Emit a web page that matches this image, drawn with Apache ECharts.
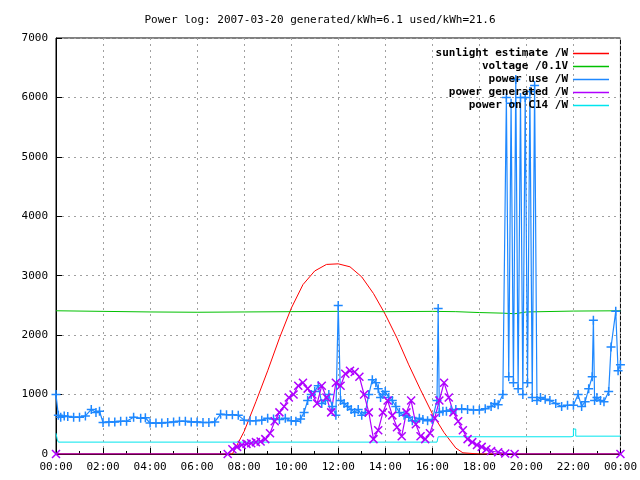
<!DOCTYPE html>
<html>
<head>
<meta charset="utf-8">
<script src="https://cdn.jsdelivr.net/npm/echarts@6/dist/echarts.min.js"></script>
<style>body{margin:0;background:#fff}#c{width:640px;height:480px}</style>
</head>
<body>
<div id="c"></div>
<script>
// sunlight estimate (hours, W)
const sunT = [0, 7.5, 8, 8.5, 9, 9.5, 10, 10.5, 11, 11.5, 12, 12.5, 13, 13.5, 14, 14.5, 15, 15.5, 16, 16.5, 17, 17.3, 18, 24];
const sunV = [0, 0, 380, 880, 1400, 1950, 2450, 2850, 3080, 3190, 3200, 3150, 2980, 2700, 2350, 1950, 1500, 1080, 680, 360, 100, 20, 0, 0];

// voltage /0.1V
const voltT = [0, 2, 4, 6, 8, 10, 12, 14, 16, 17, 18, 19, 19.5, 20, 22, 24];
const voltV = [2410, 2400, 2390, 2385, 2390, 2395, 2400, 2395, 2400, 2395, 2380, 2370, 2360, 2390, 2405, 2410];

// power use /W
const useT = [0, 0.1, 0.2, 0.35, 0.5, 0.75, 1, 1.25, 1.5, 1.7, 1.85, 2, 2.25, 2.5, 2.75, 3, 3.3, 3.6, 3.8, 4, 4.25, 4.5, 4.75, 5, 5.25, 5.5, 5.75, 6, 6.25, 6.5, 6.75, 7, 7.25, 7.5, 7.75, 8, 8.25, 8.5, 8.75, 9, 9.25, 9.5, 9.75, 10, 10.2, 10.4, 10.55, 10.7, 10.85, 11, 11.15, 11.3, 11.45, 11.6, 11.75, 11.9, 12, 12.1, 12.25, 12.4, 12.55, 12.7, 12.85, 13, 13.15, 13.3, 13.45, 13.6, 13.7, 13.8, 13.9, 14, 14.15, 14.3, 14.45, 14.6, 14.8, 15, 15.15, 15.3, 15.45, 15.6, 15.8, 16, 16.2, 16.25, 16.3, 16.45, 16.6, 16.8, 17, 17.25, 17.5, 17.75, 18, 18.25, 18.5, 18.65, 18.8, 19, 19.15, 19.25, 19.35, 19.45, 19.55, 19.65, 19.75, 19.85, 19.95, 20.05, 20.15, 20.25, 20.35, 20.45, 20.6, 20.8, 21, 21.25, 21.5, 21.75, 22, 22.2, 22.35, 22.5, 22.65, 22.8, 22.85, 22.9, 23, 23.15, 23.3, 23.5, 23.6, 23.8, 23.9, 24];
const useV = [1000, 650, 620, 640, 630, 620, 620, 640, 750, 700, 720, 530, 540, 540, 550, 550, 620, 600, 610, 520, 520, 520, 530, 540, 550, 550, 540, 540, 530, 530, 540, 670, 660, 660, 650, 570, 560, 560, 570, 600, 590, 580, 600, 560, 550, 590, 700, 900, 1000, 1050, 1150, 850, 900, 1000, 800, 650, 2500, 900, 850, 800, 750, 700, 750, 650, 700, 1000, 1250, 1200, 1100, 950, 1000, 1050, 950, 900, 800, 700, 650, 620, 560, 550, 600, 580, 560, 580, 900, 2450, 700, 720, 720, 740, 750, 760, 750, 740, 740, 760, 800, 850, 830, 1000, 6000, 1300, 5900, 1200, 6300, 1100, 6000, 1000, 6000, 1200, 6100, 950, 6200, 900, 950, 920, 900, 850, 800, 820, 820, 1000, 800, 880, 1100, 1300, 2250, 900, 950, 900, 880, 1050, 1800, 2400, 1400, 1500];

// power generated /W
const genT = [0, 7.3, 7.5, 7.7, 7.9, 8.1, 8.3, 8.5, 8.7, 8.9, 9.1, 9.3, 9.5, 9.7, 9.9, 10.1, 10.3, 10.5, 10.7, 10.9, 11.1, 11.3, 11.5, 11.7, 11.9, 12.1, 12.3, 12.5, 12.7, 12.9, 13.1, 13.3, 13.5, 13.7, 13.9, 14.1, 14.3, 14.5, 14.7, 14.9, 15.1, 15.3, 15.5, 15.7, 15.9, 16.1, 16.3, 16.5, 16.7, 16.9, 17.1, 17.3, 17.5, 17.7, 17.9, 18.1, 18.3, 18.5, 18.8, 19.1, 19.5, 24];
const genV = [0, 0, 80, 120, 150, 170, 180, 200, 210, 250, 350, 550, 700, 800, 950, 1000, 1150, 1200, 1100, 1000, 850, 1150, 950, 700, 1200, 1150, 1350, 1400, 1380, 1300, 1000, 700, 250, 400, 700, 900, 650, 450, 300, 700, 900, 500, 300, 250, 350, 600, 900, 1200, 950, 700, 550, 400, 250, 200, 150, 120, 80, 50, 30, 10, 0, 0];

// power on C14 /W
const c14T = [0, 0.05, 0.1, 16.2, 16.25, 21.9, 22, 22.1, 24];
const c14V = [350, 250, 200, 200, 290, 300, 420, 300, 300];

const pairs = (t, v) => t.map((x, i) => [x, v[i]]);
const font = 'DejaVu Sans Mono';
const plus = 'path://M0,5L10,5M5,0L5,10';
const cross = 'path://M0,0L10,10M10,0L0,10';

const cRed = '#ff0000', cGreen = '#00c000', cBlue = '#1e88ff', cPurple = '#b000ff', cCyan = '#00e5ee';

const legendItem = (name, c) => ({name: name, icon: 'rect', itemStyle: {color: c, borderWidth: 0}});

const chart = echarts.init(document.getElementById('c'));
chart.setOption({
    animation: false,
    title: {
        text: 'Power log: 2007-03-20 generated/kWh=6.1 used/kWh=21.6',
        left: 'center', top: 10,
        textStyle: {fontFamily: font, fontSize: 11, fontWeight: 'normal', color: '#000'}
    },
    grid: {left: 56, right: 19, top: 38, bottom: 26, show: true, borderColor: '#000', borderWidth: 1},
    legend: {
        orient: 'vertical', right: 26, top: 42, align: 'right',
        itemWidth: 36, itemHeight: 1.5, itemGap: 0,
        textStyle: {fontFamily: font, fontSize: 11, color: '#000', fontWeight: 'bold', lineHeight: 13},
        data: [
            legendItem('sunlight estimate /W', cRed),
            legendItem('voltage /0.1V', cGreen),
            legendItem('power use /W', cBlue),
            legendItem('power generated /W', cPurple),
            legendItem('power on C14 /W', cCyan)
        ]
    },
    xAxis: {
        type: 'value', min: 0, max: 24, interval: 2,
        axisLine: {lineStyle: {color: '#000'}},
        axisTick: {inside: true, length: 6, lineStyle: {color: '#000'}},
        minorTick: {show: true, splitNumber: 2, length: 3, lineStyle: {color: '#000'}},
        axisLabel: {fontFamily: font, fontSize: 11, color: '#000',
            formatter: v => String(v % 24 === 0 && v > 0 ? 0 : v).padStart(2, '0') + ':00'},
        splitLine: {show: true, lineStyle: {color: '#a0a0a0', type: [2, 4]}}
    },
    yAxis: {
        type: 'value', min: 0, max: 7000, interval: 1000,
        axisLine: {show: true, lineStyle: {color: '#000'}},
        axisTick: {inside: true, length: 6, lineStyle: {color: '#000'}},
        axisLabel: {fontFamily: font, fontSize: 11, color: '#000', formatter: v => String(v)},
        splitLine: {show: true, lineStyle: {color: '#a0a0a0', type: [2, 4]}}
    },
    series: [
        {name: 'sunlight estimate /W', type: 'line', data: pairs(sunT, sunV), showSymbol: false,
            color: cRed, lineStyle: {width: 1, color: cRed}},
        {name: 'voltage /0.1V', type: 'line', data: pairs(voltT, voltV), showSymbol: false,
            color: cGreen, lineStyle: {width: 1, color: cGreen}},
        {name: 'power use /W', type: 'line', data: pairs(useT, useV), symbol: plus, symbolSize: 9,
            color: cBlue, lineStyle: {width: 1.2, color: cBlue},
            itemStyle: {color: 'none', borderColor: cBlue, borderWidth: 1.5}},
        {name: 'power generated /W', type: 'line', data: pairs(genT, genV), symbol: cross, symbolSize: 8,
            color: cPurple, lineStyle: {width: 1.2, color: cPurple},
            itemStyle: {color: 'none', borderColor: cPurple, borderWidth: 1.5}},
        {name: 'power on C14 /W', type: 'line', data: pairs(c14T, c14V), showSymbol: false, step: 'end',
            color: cCyan, lineStyle: {width: 1, color: cCyan}}
    ]
});
</script>
</body>
</html>
